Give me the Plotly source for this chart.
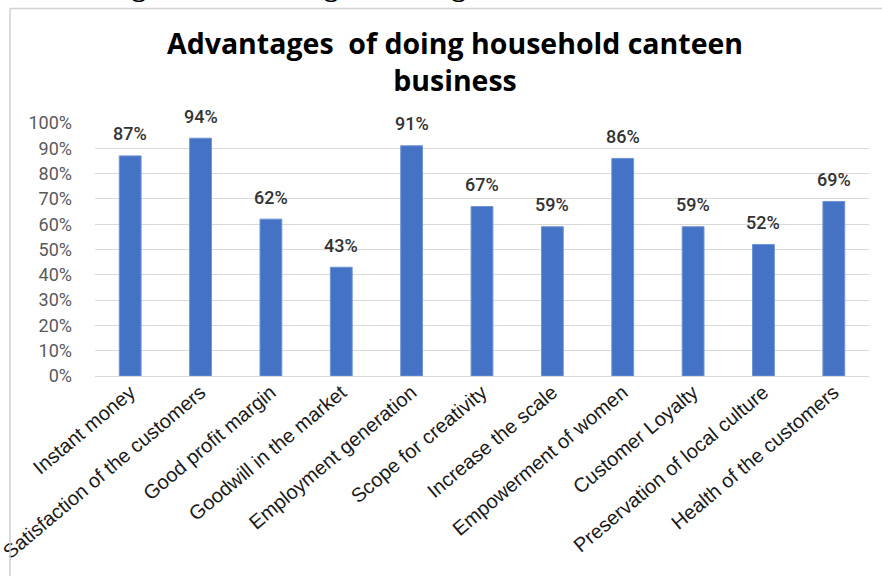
import plotly.graph_objects as go

# Survey results: share of respondents citing each advantage
categories = [
    "Instant money",
    "Satisfaction of the customers",
    "Good profit margin",
    "Goodwill in the market",
    "Employment generation",
    "Scope for creativity",
    "Increase the scale",
    "Empowerment of women",
    "Customer Loyalty",
    "Preservation of local culture",
    "Health of the customers",
]
shares = [0.87, 0.94, 0.62, 0.43, 0.91, 0.67, 0.59, 0.86, 0.59, 0.52, 0.69]
y_ticks = [i / 10 for i in range(11)]
y_tick_labels = [f"{i * 10}%" for i in range(11)]

W, H = 882, 576
L, R, T, B = 95, 13, 123, 200
plot_w = W - L - R
plot_h = H - T - B


def px_x(px):
    return (px - L) / plot_w


def px_y(py):
    return (H - B - py) / plot_h


fig = go.Figure()
fig.add_trace(
    go.Bar(
        x=categories,
        y=shares,
        marker=dict(color="#4472C4", line=dict(color="#6f93d6", width=1)),
        width=0.31,
        hoverinfo="skip",
    )
)

# value labels above each bar
for cat, val in zip(categories, shares):
    fig.add_annotation(
        x=cat, y=val, xref="x", yref="y",
        text=f"{round(val * 100)}%",
        showarrow=False, yanchor="middle", yshift=22,
        font=dict(family="Roboto", size=18, color="#333333", weight=500),
    )

# chart title
fig.add_annotation(
    xref="paper", yref="paper", x=px_x(455), y=px_y(61),
    xanchor="center", yanchor="middle",
    text="<b>Advantages  of doing household canteen<br>business</b>",
    showarrow=False,
    font=dict(family="Open Sans", size=28.5, color="#000000"),
)

# figure caption running off the top edge of the page
fig.add_annotation(
    xref="paper", yref="paper", x=px_x(453), y=px_y(4.5),
    xanchor="center", yanchor="bottom",
    text="<b>Figure 6: Advantages of doing household canteen business</b>",
    showarrow=False,
    font=dict(family="Liberation Serif", size=28, color="#000000"),
)

# chart frame
fig.add_shape(type="line", xref="paper", yref="paper",
              x0=px_x(10), x1=px_x(W + 5), y0=px_y(8.5), y1=px_y(8.5),
              line=dict(color="#D0D0D0", width=1.5))
fig.add_shape(type="line", xref="paper", yref="paper",
              x0=px_x(10), x1=px_x(10), y0=px_y(8.5), y1=px_y(H + 5),
              line=dict(color="#D0D0D0", width=1.5))

fig.update_layout(
    width=W, height=H,
    margin=dict(l=L, r=R, t=T, b=B, pad=0),
    paper_bgcolor="white", plot_bgcolor="white",
    showlegend=False,
    xaxis=dict(
        tickangle=-40, automargin=False,
        tickfont=dict(family="Liberation Sans", size=20, color="#1a1a1a"),
        showgrid=False, showline=False, ticks="", zeroline=False,
    ),
    yaxis=dict(
        range=[0, 1.0], automargin=False,
        tickvals=y_ticks, ticktext=y_tick_labels,
        tickfont=dict(family="Roboto", size=18, color="#595959"),
        showgrid=True, gridcolor="#D9D9D9", gridwidth=1,
        zeroline=True, zerolinecolor="#D9D9D9", zerolinewidth=1,
        showline=False, ticks="", ticklabelstandoff=22,
    ),
)

fig.write_html("out.html")
